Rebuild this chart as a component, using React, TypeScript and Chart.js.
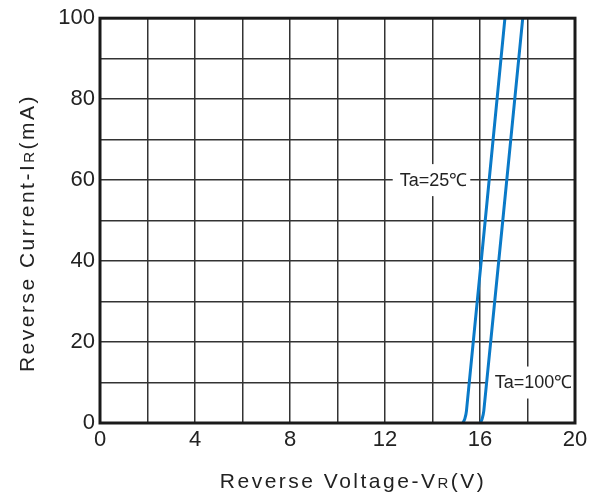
import React, { useEffect, useRef } from "react";
import { Chart, registerables } from "chart.js";

Chart.register(...registerables);

const curve25V = [15.28, 15.36, 15.43, 17.05];
const curve25I = [0, 1, 3, 100];
const curve100V = [16.02, 16.09, 16.16, 17.8];
const curve100I = [0, 1, 3, 100];

const xMin = 0, xMax = 20, xStep = 2, xLabelEvery = 4;
const yMin = 0, yMax = 100, yStep = 10, yLabelEvery = 20;

const labels = [
  { text: "Ta=25℃", x: 12.62, y: 60 },
  { text: "Ta=100℃", x: 16.62, y: 10 },
];

const FONT = "'Liberation Sans', Arial, sans-serif";
const BLUE = "#0a7ac8";

const annotPlugin = {
  id: "annot",
  beforeDatasetsDraw(chart: any) {
    const ctx = chart.ctx;
    const xs = chart.scales.x, ys = chart.scales.y;
    ctx.save();
    ctx.font = `18px ${FONT}`;
    ctx.textBaseline = "middle";
    ctx.textAlign = "left";
    for (const l of labels) {
      const px = xs.getPixelForValue(l.x);
      const py = ys.getPixelForValue(l.y);
      const w = ctx.measureText(l.text).width;
      ctx.fillStyle = "#fff";
      ctx.fillRect(px - 7, py - 16, w + 10, 32);
      ctx.fillStyle = "#222";
      ctx.fillText(l.text, px, py + 1);
    }
    ctx.restore();
  },
  afterDraw(chart: any) {
    const ctx = chart.ctx;
    const a = chart.chartArea;
    ctx.save();
    ctx.strokeStyle = "#1a1a1a";
    ctx.lineWidth = 3;
    ctx.strokeRect(a.left, a.top, a.right - a.left, a.bottom - a.top);
    ctx.fillStyle = "#222";
    ctx.textBaseline = "alphabetic";
    (ctx as any).letterSpacing = "2.5px";
    // x title
    const drawSub = (parts: [string, number][], startX: number, y: number) => {
      let x = startX;
      for (const [t, size] of parts) {
        ctx.font = `${size}px ${FONT}`;
        ctx.fillText(t, x, y);
        x += ctx.measureText(t).width;
      }
      return x - startX;
    };
    const measure = (parts: [string, number][]) => {
      let w = 0;
      for (const [t, size] of parts) {
        ctx.font = `${size}px ${FONT}`;
        w += ctx.measureText(t).width;
      }
      return w;
    };
    const xParts: [string, number][] = [["Reverse Voltage-V", 21], ["R", 15], ["(V)", 21]];
    const xw = measure(xParts);
    ctx.textAlign = "left";
    drawSub(xParts, 353 - xw / 2, 488);
    // y title
    const yParts: [string, number][] = [["Reverse Current-I", 21], ["R", 15], ["(mA)", 21]];
    const yw = measure(yParts);
    ctx.translate(34, 233);
    ctx.rotate(-Math.PI / 2);
    drawSub(yParts, -yw / 2, 0);
    ctx.restore();
  },
};

export default function App() {
  const ref = useRef<HTMLCanvasElement>(null);
  useEffect(() => {
    document.body.style.margin = "0";
    const c = ref.current!;
    const chart = new Chart(c, {
      type: "line",
      data: {
        datasets: [
          {
            data: curve25V.map((v, i) => ({ x: v, y: curve25I[i] })),
            borderColor: BLUE,
            borderWidth: 3,
            pointRadius: 0,
            tension: 0.3,
            fill: false,
          },
          {
            data: curve100V.map((v, i) => ({ x: v, y: curve100I[i] })),
            borderColor: BLUE,
            borderWidth: 3,
            pointRadius: 0,
            tension: 0.3,
            fill: false,
          },
        ],
      },
      options: {
        animation: false,
        responsive: false,
        layout: { padding: { left: 0, right: 27, top: 16, bottom: 0 } },
        plugins: { legend: { display: false }, tooltip: { enabled: false } },
        scales: {
          x: {
            type: "linear",
            min: xMin,
            max: xMax,
            ticks: {
              stepSize: xStep,
              autoSkip: false,
              maxRotation: 0,
              padding: 4,
              color: "#222",
              font: { family: FONT, size: 22 },
              callback: (v: any) => (Number(v) % xLabelEvery === 0 ? String(v) : ""),
            },
            grid: { color: "#333", lineWidth: 1.5, drawTicks: false },
            border: { display: false },
            afterFit: (s: any) => { s.height = 70; },
          },
          y: {
            type: "linear",
            min: yMin,
            max: yMax,
            ticks: {
              stepSize: yStep,
              autoSkip: false,
              padding: 5,
              color: "#222",
              font: { family: FONT, size: 22 },
              callback: (v: any) => (Number(v) % yLabelEvery === 0 ? String(v) : ""),
            },
            grid: { color: "#333", lineWidth: 1.5, drawTicks: false },
            border: { display: false },
            afterFit: (s: any) => { s.width = 100; },
          },
        },
      },
      plugins: [annotPlugin],
    });
    return () => chart.destroy();
  }, []);
  return (
    <div style={{ width: 602, height: 493 }}>
      <canvas ref={ref} width={602} height={493} style={{ display: "block" }} />
    </div>
  );
}
